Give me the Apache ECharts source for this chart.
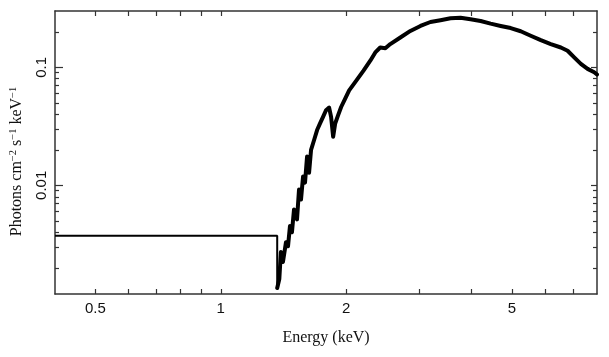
<!DOCTYPE html>
<html lang="en">
<head>
    <meta charset="UTF-8">
    <title>Photon spectrum</title>
    <script src="https://cdn.jsdelivr.net/npm/echarts@6/dist/echarts.min.js"></script>
    <style>
        html, body { margin: 0; padding: 0; background: #fff; }
        #main { width: 609px; height: 357px; }
    </style>
</head>
<body>
    <div id="main"></div>
    <script>
        // flat low-energy part (thin line) up to the drop
        var flatEnergy = [0.4, 1.366];
        var flatFlux = [0.00373, 0.00135];

        // main spectrum (keV, photons cm-2 s-1 keV-1)
        var energy = [1.366, 1.382, 1.394, 1.410, 1.434, 1.450, 1.466, 1.482, 1.499, 1.524,
            1.541, 1.558, 1.576, 1.593, 1.611, 1.629, 1.647, 1.675, 1.703, 1.731,
            1.760, 1.789, 1.820, 1.840, 1.861, 1.882, 1.913, 1.945, 1.989, 2.033,
            2.102, 2.201, 2.285, 2.349, 2.414, 2.483, 2.552, 2.698, 2.852, 3.015,
            3.186, 3.368, 3.560, 3.763, 3.977, 4.204, 4.443, 4.697, 4.965, 5.248,
            5.546, 5.864, 6.197, 6.551, 6.800, 7.053, 7.317, 7.594, 7.878, 8.0];
        var flux = [0.00135, 0.00161, 0.00272, 0.00224, 0.0033, 0.00305, 0.00452, 0.0040, 0.00625, 0.00515,
            0.0092, 0.00758, 0.0119, 0.01053, 0.01752, 0.01279, 0.01995, 0.0242, 0.0294, 0.03345,
            0.038, 0.0433, 0.0456, 0.038, 0.0258, 0.0334, 0.0393, 0.0461, 0.0543, 0.0637,
            0.0748, 0.0938, 0.1138, 0.1337, 0.1472, 0.145, 0.1573, 0.1789, 0.2033, 0.2241,
            0.242, 0.2506, 0.260, 0.263, 0.255, 0.2468, 0.2343, 0.2241, 0.215, 0.2021,
            0.185, 0.1697, 0.1573, 0.1472, 0.1381, 0.1213, 0.1068, 0.097, 0.0908, 0.0869];

        var xLabelValues = [0.5, 1, 2, 5];
        var xTickValues = [0.5, 0.6, 0.7, 0.8, 0.9, 1, 2, 3, 4, 5, 6, 7];
        var yLabelValues = [0.01, 0.1];
        var yMinorTicks = [0.002, 0.003, 0.004, 0.005, 0.006, 0.007, 0.008, 0.009,
            0.02, 0.03, 0.04, 0.05, 0.06, 0.07, 0.08, 0.09, 0.2];

        var axisColor = '#333';
        var fmt = function (v) { return String(+(+v).toPrecision(3)); };

        function xAxisOpt(pos, showLabel) {
            return {
                type: 'log', logBase: 10, min: 0.4, max: 8, position: pos,
                axisLine: { show: true, lineStyle: { color: axisColor, width: 1.5 } },
                axisTick: { show: true, inside: true, length: 5, customValues: xTickValues,
                    lineStyle: { color: axisColor, width: 1.2 } },
                axisLabel: { show: showLabel, customValues: xLabelValues, formatter: fmt,
                    color: '#111', fontSize: 15, fontFamily: 'Liberation Sans', margin: 7 },
                splitLine: { show: false }
            };
        }

        function yAxisOpt(pos, showLabel, ticks, len, showLine) {
            return {
                type: 'log', logBase: 10, min: 0.0012, max: 0.3, position: pos,
                axisLine: { show: showLine, lineStyle: { color: axisColor, width: 1.5 } },
                axisTick: { show: true, inside: true, length: len, customValues: ticks,
                    lineStyle: { color: axisColor, width: 1.2 } },
                axisLabel: { show: showLabel, customValues: yLabelValues, formatter: fmt, rotate: 90,
                    color: '#111', fontSize: 15, fontFamily: 'Liberation Sans', margin: 6 },
                splitLine: { show: false }
            };
        }

        var xA = xAxisOpt('bottom', true);
        xA.name = 'Energy (keV)';
        xA.nameLocation = 'middle';
        xA.nameGap = 36;
        xA.nameTextStyle = { fontFamily: 'Liberation Serif', fontSize: 16, color: '#111' };

        var yA = yAxisOpt('left', true, yLabelValues, 8, true);
        yA.name = 'Photons cm{s|\u22122} s{s|\u22121} keV{s|\u22121}';
        yA.nameLocation = 'middle';
        yA.nameGap = 30;
        yA.nameTextStyle = {
            fontFamily: 'Liberation Serif', fontSize: 16, color: '#111', lineHeight: 17,
            padding: [0, 18, 0, 0],
            rich: { s: { fontFamily: 'Liberation Serif', fontSize: 10.5, color: '#111', verticalAlign: 'top', lineHeight: 17 } }
        };

        var myChart = echarts.init(document.getElementById('main'), null, { renderer: 'canvas' });
        var option = {
            animation: false,
            grid: { left: 55, right: 12, top: 11, bottom: 63, containLabel: false, outerBoundsMode: 'none' },
            xAxis: [xA, xAxisOpt('top', false)],
            yAxis: [
                yA,
                yAxisOpt('left', false, yMinorTicks, 4, false),
                yAxisOpt('right', false, yLabelValues, 6, true),
                yAxisOpt('right', false, yMinorTicks, 4, false)
            ],
            series: [
                {
                    type: 'line', step: 'end', showSymbol: false, xAxisIndex: 0, yAxisIndex: 0,
                    lineStyle: { color: '#000', width: 2 },
                    data: flatEnergy.map(function (e, i) { return [e, flatFlux[i]]; })
                },
                {
                    type: 'line', showSymbol: false, xAxisIndex: 0, yAxisIndex: 0,
                    lineStyle: { color: '#000', width: 4, join: 'round', cap: 'round' },
                    data: energy.map(function (e, i) { return [e, flux[i]]; })
                }
            ]
        };
        myChart.setOption(option);
    </script>
</body>
</html>
